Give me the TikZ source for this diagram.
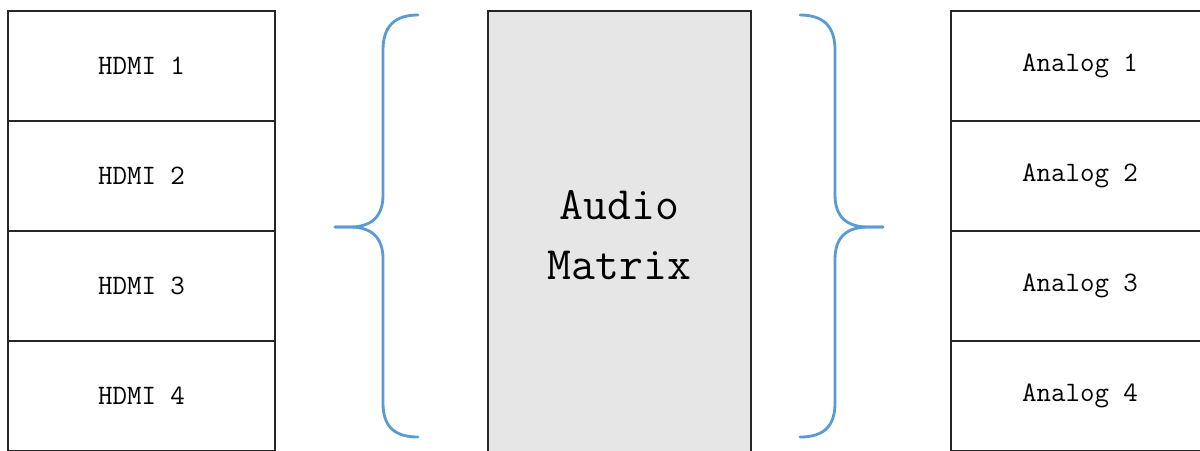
\documentclass[tikz,border=0pt]{standalone}
\usepackage{tikz}
\usetikzlibrary{positioning}
\usepackage{xcolor}
\definecolor{BraceBlue}{HTML}{5B9BD5}
\definecolor{MatGray}{HTML}{E6E6E6}

\begin{document}
\begin{tikzpicture}[x=0.025cm, y=-0.025cm,
        port/.style={draw=black!85, line width=1.1pt, fill=white, inner sep=0pt,
          minimum height=2.75cm, font=\ttfamily\fontsize{20}{24}\selectfont},
        inport/.style={port, minimum width=6.675cm},
        outport/.style={port, minimum width=6.45cm},
        matbox/.style={draw=black!85, line width=1.1pt, fill=MatGray, inner sep=0pt,
          minimum width=6.575cm, minimum height=11.225cm, align=center,
          font=\ttfamily\fontsize{33}{42.7}\selectfont},
        brace/.style={draw=BraceBlue, line width=2pt, line cap=round},
      ]
      \clip (0,0) rectangle (1200,450);
      \fill[white] (0,0) rectangle (1200,450);
      % inputs
      \foreach \i in {1,...,4}
        \node[inport] (h\i) at (141.5,{66+110*(\i-1)}) {HDMI \i};
      % matrix
      \node[matbox] (mat) at (619.5,235.5) {Audio\\Matrix};
      % outputs
      \foreach \i in {1,...,4}
        \node[outport] (a\i) at (1080,{66+110*(\i-1)}) {Analog \i};
      % braces
      \draw[brace] (418,15) .. controls (395,15) and (383,26) .. (383,50) -- (383,195)
        .. controls (383,217) and (371,227) .. (350,227) -- (335,227);
      \draw[brace] (335,227) -- (350,227) .. controls (371,227) and (383,237) .. (383,259)
        -- (383,403) .. controls (383,427) and (395,437) .. (418,437);
      \draw[brace] (800,15) .. controls (823,15) and (835,26) .. (835,50) -- (835,195)
        .. controls (835,217) and (847,227) .. (868,227) -- (883,227);
      \draw[brace] (883,227) -- (868,227) .. controls (847,227) and (835,237) .. (835,259)
        -- (835,403) .. controls (835,427) and (823,437) .. (800,437);
    \end{tikzpicture}
\end{document}
